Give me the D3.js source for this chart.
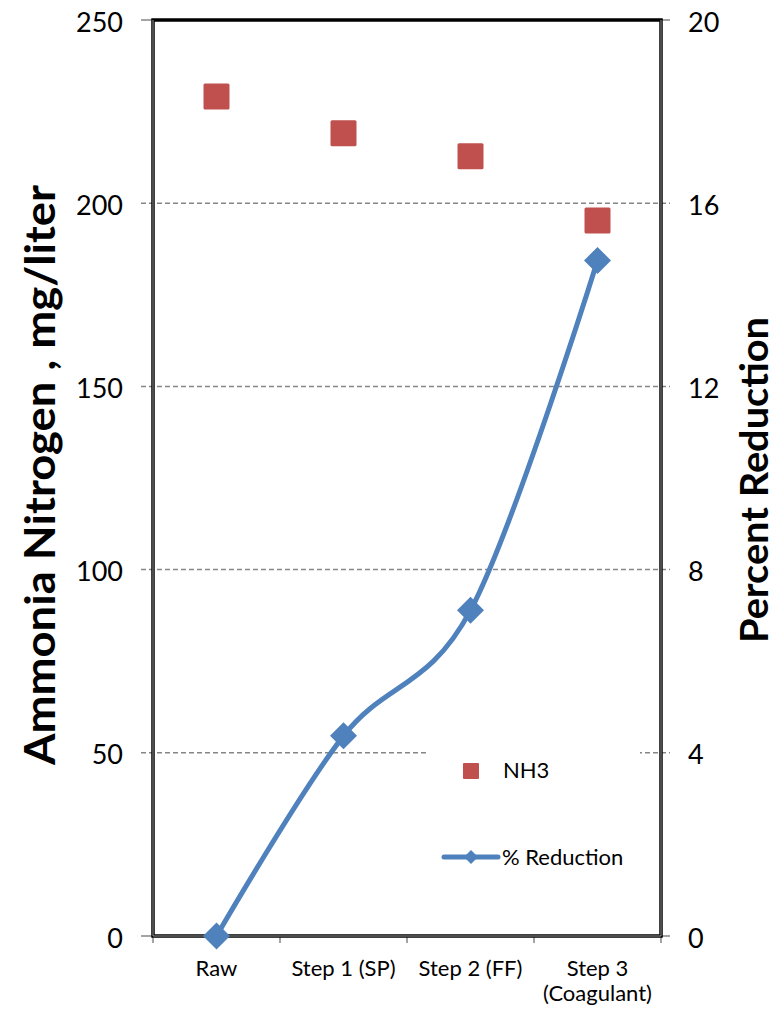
<!DOCTYPE html>
<html>
<head>
<meta charset="utf-8">
<script src="https://cdn.jsdelivr.net/npm/d3@7/dist/d3.min.js"></script>
<style>
  html, body { margin: 0; padding: 0; background: #fff; }
  svg { display: block; font-family: Lato, "Open Sans", sans-serif; }
</style>
</head>
<body>
<svg id="chart" width="784" height="1010"></svg>
<script>
// Treatment stages along the x axis
const stages = ["Raw", "Step 1 (SP)", "Step 2 (FF)", "Step 3|(Coagulant)"];
// Ammonia nitrogen concentration, mg/liter (left axis)
const nh3 = [229.1, 219.1, 212.8, 195.3];
// Cumulative percent reduction (right axis)
const pctReduction = [0, 4.37, 7.11, 14.75];
// Axis ticks
const leftTicks = [0, 50, 100, 150, 200, 250];
const rightTicks = [0, 4, 8, 12, 16, 20];

const svg = d3.select("#chart");
const plot = { left: 153, right: 661, top: 20, bottom: 936 };

const x = d3.scalePoint().domain(stages).range([plot.left, plot.right]).padding(0.5);
const xBand = d3.scaleBand().domain(stages).range([plot.left, plot.right]);
const yL = d3.scaleLinear().domain([0, 250]).range([plot.bottom, plot.top]);
const yR = d3.scaleLinear().domain([0, 20]).range([plot.bottom, plot.top]);

const gridGray = "#868686";

// Dashed horizontal gridlines (they run slightly past both axes)
svg.append("g").selectAll("line")
  .data(leftTicks.filter(d => d > 0 && d < 250))
  .join("line")
  .attr("x1", plot.left - 12).attr("x2", plot.right + 9)
  .attr("y1", d => yL(d)).attr("y2", d => yL(d))
  .attr("stroke", gridGray).attr("stroke-width", 1.5)
  .attr("stroke-dasharray", "5,3");

// Solid tick stubs at 0 and the top
svg.append("g").selectAll("line")
  .data([0, 250])
  .join("line")
  .attr("x1", plot.left - 12).attr("x2", plot.left)
  .attr("y1", d => yL(d)).attr("y2", d => yL(d))
  .attr("stroke", gridGray).attr("stroke-width", 1.5);
svg.append("g").selectAll("line")
  .data([0, 20])
  .join("line")
  .attr("x1", plot.right).attr("x2", plot.right + 9)
  .attr("y1", d => yR(d)).attr("y2", d => yR(d))
  .attr("stroke", gridGray).attr("stroke-width", 1.5);

// Category boundary ticks below the x axis
const bounds = stages.map(s => xBand(s)).concat([plot.right]);
svg.append("g").selectAll("line")
  .data(bounds)
  .join("line")
  .attr("x1", d => d).attr("x2", d => d)
  .attr("y1", plot.bottom).attr("y2", plot.bottom + 7)
  .attr("stroke", gridGray).attr("stroke-width", 1.5);

// Legend background (white box over the gridline)
svg.append("rect")
  .attr("x", 428).attr("y", 742).attr("width", 212).attr("height", 150)
  .attr("fill", "#fff");

// Plot border: black frame with a grey axis line running through its sides
svg.append("rect")
  .attr("x", plot.left).attr("y", plot.top)
  .attr("width", plot.right - plot.left).attr("height", plot.bottom - plot.top)
  .attr("fill", "none").attr("stroke", "#000").attr("stroke-width", 3.5);
svg.append("path")
  .attr("d", `M${plot.left},${plot.top}V${plot.bottom}H${plot.right}V${plot.top}`)
  .attr("fill", "none").attr("stroke", "#9a9a9a").attr("stroke-width", 1);

// Left tick labels
svg.append("g").selectAll("text")
  .data(leftTicks)
  .join("text")
  .attr("x", 123).attr("y", d => yL(d) + 1)
  .attr("text-anchor", "end").attr("dominant-baseline", "central")
  .attr("font-size", 27).attr("fill", "#000")
  .text(d => d);

// Right tick labels
svg.append("g").selectAll("text")
  .data(rightTicks)
  .join("text")
  .attr("x", 688).attr("y", d => yR(d) + 1)
  .attr("text-anchor", "start").attr("dominant-baseline", "central")
  .attr("font-size", 27).attr("fill", "#000")
  .text(d => d);

// Category labels (split on "|" for two-line labels)
const catText = svg.append("g").selectAll("text")
  .data(stages)
  .join("text")
  .attr("x", d => x(d)).attr("y", 976)
  .attr("text-anchor", "middle").attr("font-size", 22).attr("fill", "#000");
catText.each(function(d) {
  const lines = d.split("|");
  d3.select(this).selectAll("tspan")
    .data(lines)
    .join("tspan")
    .attr("x", x(d))
    .attr("dy", (l, i) => i === 0 ? 0 : 25)
    .text(l => l);
});

// Axis titles
svg.append("text")
  .attr("transform", "translate(55,475) rotate(-90)")
  .attr("text-anchor", "middle").attr("font-size", 42).attr("font-weight", "bold")
  .attr("textLength", 580).attr("lengthAdjust", "spacingAndGlyphs")
  .text("Ammonia Nitrogen , mg/liter");
svg.append("text")
  .attr("transform", "translate(768,480) rotate(-90)")
  .attr("text-anchor", "middle").attr("font-size", 39).attr("font-weight", "bold")
  .attr("textLength", 326).attr("lengthAdjust", "spacingAndGlyphs")
  .text("Percent Reduction");

const red = "#C0504D";
const blue = "#4F81BD";

// Percent reduction: smoothed line with diamond markers
const line = d3.line()
  .x((d, i) => x(stages[i]))
  .y(d => yR(d))
  .curve(d3.curveCardinal.tension(0));
svg.append("path")
  .datum(pctReduction)
  .attr("d", line)
  .attr("fill", "none").attr("stroke", blue).attr("stroke-width", 5)
  .attr("stroke-linejoin", "round");

const diamond = (cx, cy, r) => `M${cx},${cy - r}L${cx + r},${cy}L${cx},${cy + r}L${cx - r},${cy}Z`;
svg.append("g").selectAll("path")
  .data(pctReduction)
  .join("path")
  .attr("d", (d, i) => diamond(x(stages[i]), yR(d), 13.5))
  .attr("fill", blue);

// NH3 square markers
svg.append("g").selectAll("rect")
  .data(nh3)
  .join("rect")
  .attr("x", (d, i) => x(stages[i]) - 13)
  .attr("y", d => yL(d) - 13)
  .attr("width", 26).attr("height", 26).attr("rx", 1.5)
  .attr("fill", red);

// Legend
const legend = svg.append("g");
legend.append("rect")
  .attr("x", 463).attr("y", 763).attr("width", 16).attr("height", 16).attr("rx", 1)
  .attr("fill", red);
legend.append("text")
  .attr("x", 503).attr("y", 778).attr("font-size", 22).text("NH3");
legend.append("line")
  .attr("x1", 444).attr("x2", 498).attr("y1", 857).attr("y2", 857)
  .attr("stroke", blue).attr("stroke-width", 5).attr("stroke-linecap", "round");
legend.append("path")
  .attr("d", diamond(471, 857, 7)).attr("fill", blue);
legend.append("text")
  .attr("x", 502).attr("y", 865).attr("font-size", 22).text("% Reduction");
</script>
</body>
</html>
